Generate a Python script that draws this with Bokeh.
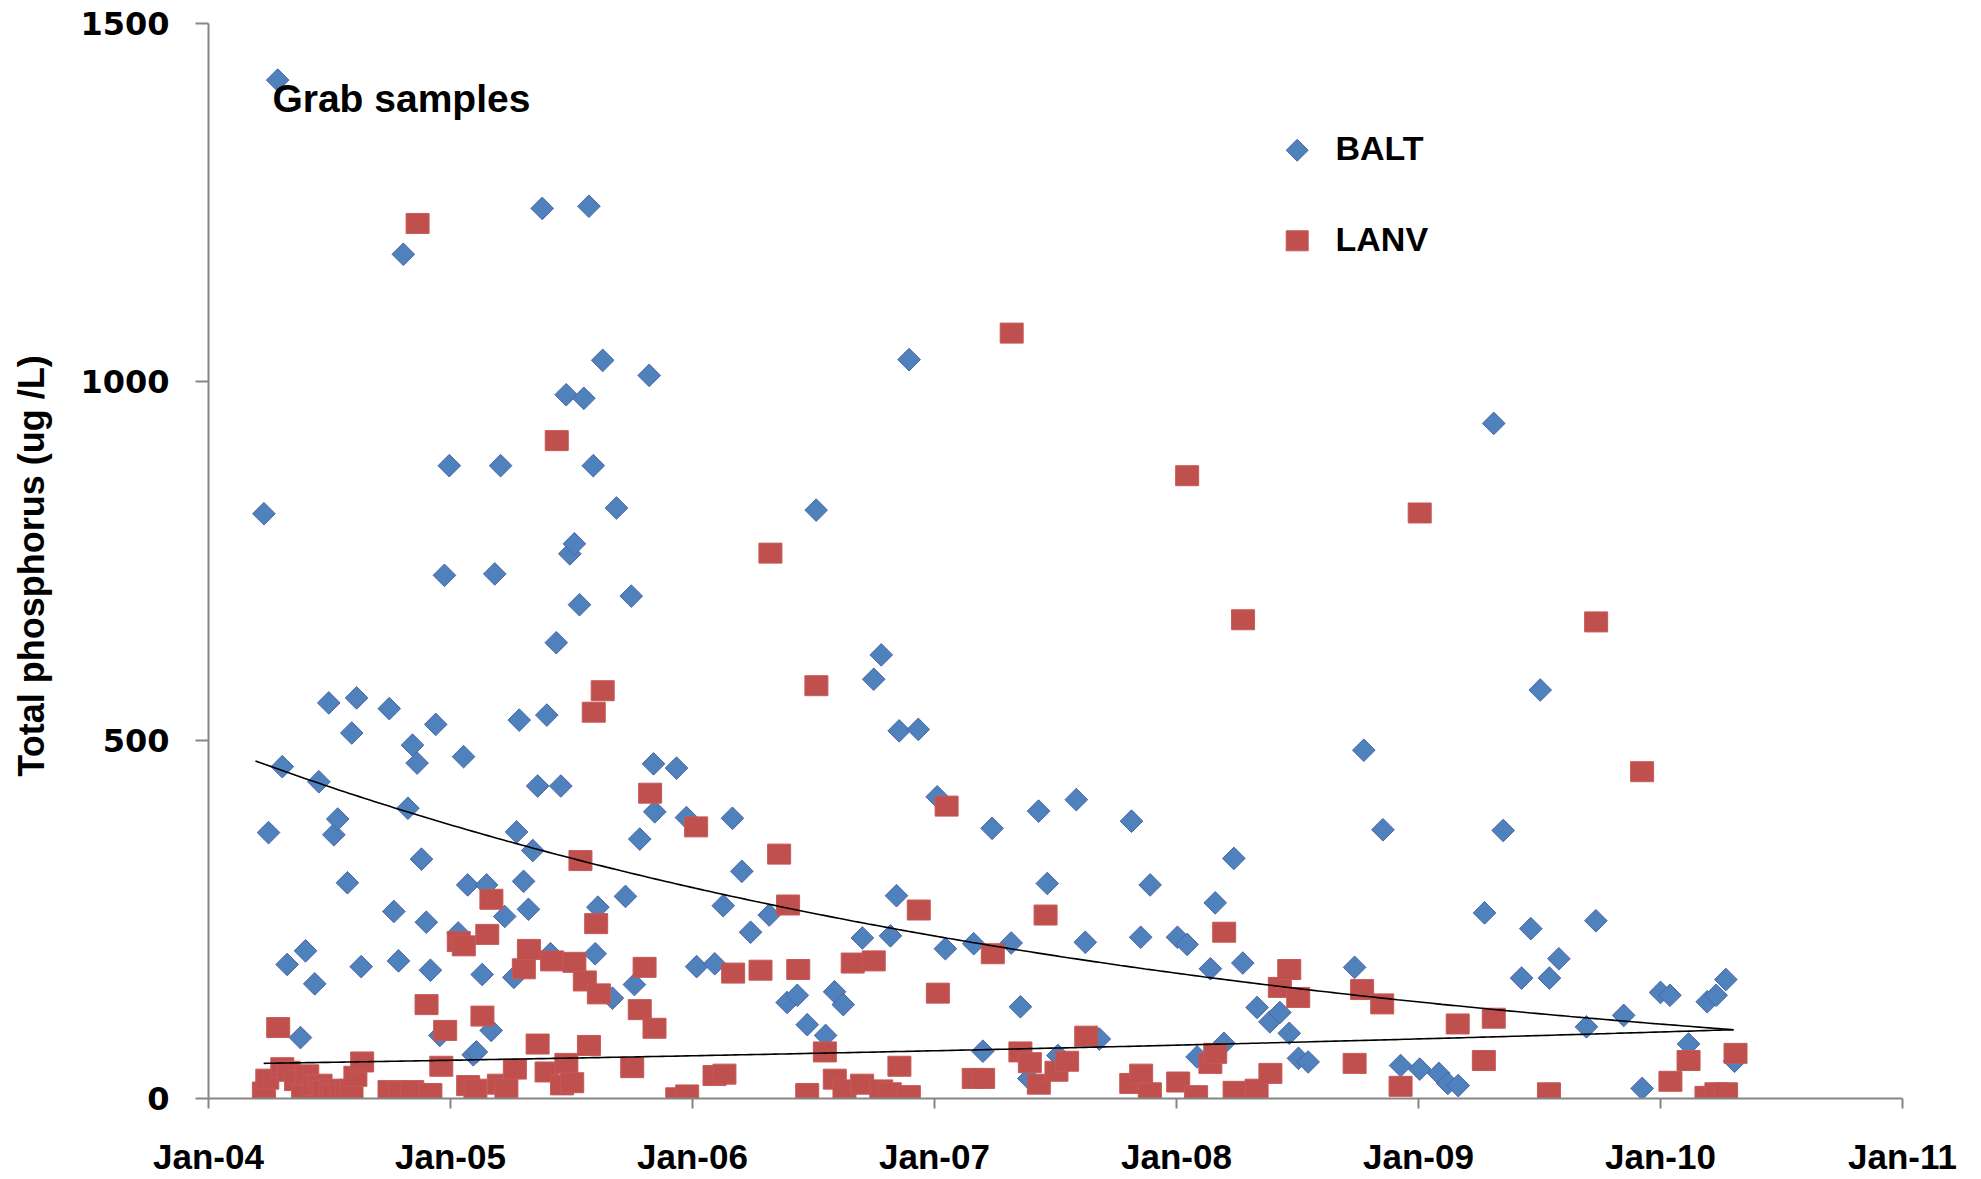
import numpy as np
from bokeh.plotting import figure
from bokeh.models import FixedTicker, Label, Range1d
from bokeh.embed import file_html
from bokeh.resources import INLINE

# ---------------- data (decimal year, total phosphorus ug/L) ----------------
balt_year = [2004.229, 2004.248, 2004.286, 2004.305, 2004.325, 2004.380, 2004.401, 2004.439,
             2004.456, 2004.497, 2004.518, 2004.534, 2004.574, 2004.592, 2004.612, 2004.631,
             2004.747, 2004.766, 2004.785, 2004.805, 2004.824, 2004.843, 2004.862, 2004.880,
             2004.900, 2004.917, 2004.939, 2004.956, 2004.975, 2004.995, 2005.032, 2005.054,
             2005.071, 2005.094, 2005.107, 2005.131, 2005.149, 2005.168, 2005.183, 2005.207,
             2005.224, 2005.262, 2005.273, 2005.284, 2005.302, 2005.322, 2005.340, 2005.360,
             2005.379, 2005.398, 2005.413, 2005.437, 2005.456, 2005.478, 2005.493, 2005.512,
             2005.533, 2005.551, 2005.572, 2005.590, 2005.598, 2005.609, 2005.629, 2005.669,
             2005.686, 2005.723, 2005.747, 2005.760, 2005.782, 2005.821, 2005.839, 2005.844,
             2005.934, 2005.975, 2006.017, 2006.092, 2006.127, 2006.165, 2006.204, 2006.240,
             2006.317, 2006.391, 2006.433, 2006.474, 2006.511, 2006.550, 2006.587, 2006.623,
             2006.702, 2006.749, 2006.780, 2006.818, 2006.843, 2006.854, 2006.895, 2006.933,
             2007.011, 2007.045, 2007.162, 2007.200, 2007.238, 2007.317, 2007.355, 2007.390,
             2007.430, 2007.466, 2007.510, 2007.528, 2007.586, 2007.623, 2007.681, 2007.814,
             2007.852, 2007.891, 2008.004, 2008.044, 2008.085, 2008.140, 2008.160, 2008.196,
             2008.237, 2008.274, 2008.333, 2008.386, 2008.427, 2008.466, 2008.504, 2008.544,
             2008.736, 2008.774, 2008.853, 2008.926, 2009.005, 2009.084, 2009.121, 2009.164,
             2009.273, 2009.311, 2009.350, 2009.426, 2009.464, 2009.503, 2009.541, 2009.580,
             2009.694, 2009.733, 2009.848, 2009.924, 2010.000, 2010.039, 2010.116, 2010.193,
             2010.230, 2010.270, 2010.306]
balt_tp = [816, 371, 1421, 463, 187, 85, 206, 160,
           442, 552, 368, 390, 301, 510, 559, 184,
           544, 261, 192, 1178, 405, 493, 468, 334,
           246, 179, 522, 88, 730, 883, 231, 477,
           298, 61, 65, 173, 298, 95, 732, 883,
           254, 169, 372, 528, 303, 264, 346, 436,
           1242, 535, 202, 636, 436, 982, 760, 774,
           689, 977, 1245, 883, 202, 267, 1030, 140,
           824, 282, 701, 159, 362, 1009, 467, 400,
           461, 392, 184, 188, 269, 391, 317, 232,
           256, 134, 144, 103, 821, 88, 149, 131,
           224, 585, 619, 227, 283, 513, 1031, 515,
           421, 209, 216, 66, 377, 217, 128, 28,
           401, 300, 60, 45, 417, 218, 83, 387,
           225, 298, 225, 215, 58, 181, 273, 77,
           335, 189, 127, 107, 120, 91, 56, 51,
           183, 486, 375, 46, 41, 35, 21, 18,
           259, 942, 374, 168, 237, 570, 168, 195,
           100, 248, 116, 14, 148, 144, 76, 135,
           144, 166, 52]

lanv_year = [2004.229, 2004.243, 2004.288, 2004.305, 2004.331, 2004.362, 2004.391, 2004.408,
             2004.435, 2004.463, 2004.476, 2004.504, 2004.518, 2004.550, 2004.570, 2004.591,
             2004.607, 2004.635, 2004.748, 2004.793, 2004.842, 2004.864, 2004.901, 2004.917,
             2004.962, 2004.978, 2005.034, 2005.055, 2005.073, 2005.103, 2005.132, 2005.152,
             2005.169, 2005.200, 2005.231, 2005.266, 2005.303, 2005.324, 2005.360, 2005.397,
             2005.439, 2005.420, 2005.461, 2005.479, 2005.512, 2005.503, 2005.537, 2005.555,
             2005.572, 2005.592, 2005.602, 2005.613, 2005.629, 2005.751, 2005.782, 2005.802,
             2005.825, 2005.843, 2005.937, 2005.978, 2006.015, 2006.091, 2006.132, 2006.168,
             2006.281, 2006.322, 2006.358, 2006.395, 2006.437, 2006.474, 2006.512, 2006.547,
             2006.588, 2006.628, 2006.662, 2006.701, 2006.749, 2006.780, 2006.815, 2006.855,
             2006.894, 2006.935, 2007.014, 2007.050, 2007.162, 2007.201, 2007.241, 2007.319,
             2007.355, 2007.394, 2007.431, 2007.459, 2007.504, 2007.548, 2007.627, 2007.813,
             2007.854, 2007.890, 2008.007, 2008.044, 2008.081, 2008.140, 2008.160, 2008.197,
             2008.240, 2008.275, 2008.331, 2008.388, 2008.427, 2008.466, 2008.503, 2008.736,
             2008.767, 2008.850, 2008.926, 2009.005, 2009.162, 2009.270, 2009.311, 2009.539,
             2009.734, 2009.924, 2010.041, 2010.116, 2010.190, 2010.231, 2010.271, 2010.310]
lanv_tp = [9, 27, 99, 43, 38, 25, 7, 33,
           18, 20, 11, 13, 6, 8, 12, 13,
           31, 51, 11, 10, 11, 1221, 131, 7,
           45, 95, 219, 213, 18, 13, 115, 229,
           278, 20, 14, 41, 181, 208, 76, 37,
           918, 192, 19, 49, 190, 22, 332, 164,
           74, 539, 244, 146, 569, 43, 124, 183,
           426, 98, 1, 5, 379, 32, 34, 175,
           179, 761, 341, 270, 180, 7, 576, 65,
           27, 12, 189, 20, 192, 12, 8, 45,
           4, 263, 147, 408, 28, 28, 202, 1068,
           65, 50, 20, 256, 38, 52, 87, 21,
           34, 8, 23, 869, 4, 49, 63, 232,
           10, 668, 13, 35, 155, 180, 141, 49,
           152, 132, 17, 817, 104, 53, 112, 8,
           665, 456, 24, 53, 3, 8, 8, 63]

# exponential trend lines: start / end values
balt_trend_year = [2004.194, 2010.302]
balt_trend_tp = [471, 96]
lanv_trend_year = [2004.228, 2010.302]
lanv_trend_tp = [49, 96]

x_tick_years = [2004, 2005, 2006, 2007, 2008, 2009, 2010, 2011]
x_tick_labels = ["Jan-04", "Jan-05", "Jan-06", "Jan-07", "Jan-08", "Jan-09", "Jan-10", "Jan-11"]
y_ticks = [0, 500, 1000, 1500]
series_names = ["BALT", "LANV"]

FONT = "Liberation Sans"
AXIS_GREY = "#868686"
BLUE, BLUE_EDGE = "#4F81BD", "#4C66A6"
RED, RED_EDGE = "#C0504D", "#C55A57"

# ---------------- layout (pixels) ----------------
W, H = 1970, 1178
BL, BR, BT, BB = 208, 68, 23, 78
FW, FH = W - BL - BR, H - BT - BB


def exp_trend(years, vals, n=300):
    t = np.linspace(years[0], years[1], n)
    frac = (t - years[0]) / (years[1] - years[0])
    return t, vals[0] * (vals[1] / vals[0]) ** frac


p = figure(width=W, height=H,
           x_range=Range1d(2004, 2011), y_range=Range1d(0, 1500),
           output_backend="svg", toolbar_location=None,
           min_border_left=BL, min_border_right=BR,
           min_border_top=BT, min_border_bottom=BB)
# pixel coordinate system of the plot frame, used only for the legend keys
p.extra_x_ranges = {"px": Range1d(0, FW)}
p.extra_y_ranges = {"px": Range1d(0, FH)}
p.outline_line_color = None
p.xgrid.visible = False
p.ygrid.visible = False
p.background_fill_color = "white"

p.scatter(balt_year, balt_tp, marker="square", angle=np.pi / 4, size=16,
          fill_color=BLUE, line_color=BLUE_EDGE, line_width=1)
p.rect(lanv_year, lanv_tp, width=23, height=20,
       width_units="screen", height_units="screen",
       fill_color=RED, line_color=RED_EDGE, line_width=1)

tx, ty = exp_trend(balt_trend_year, balt_trend_tp)
p.line(tx, ty, line_color="black", line_width=1.6)
tx, ty = exp_trend(lanv_trend_year, lanv_trend_tp)
p.line(tx, ty, line_color="black", line_width=1.6)

# axes
xa = p.xaxis[0]
xa.ticker = FixedTicker(ticks=x_tick_years, minor_ticks=[])
xa.major_label_overrides = {y: lab for y, lab in zip(x_tick_years, x_tick_labels)}
xa.major_tick_in = 0
xa.major_tick_out = 10
xa.major_label_standoff = 28
xa.major_label_text_font = FONT
xa.major_label_text_font_style = "bold"
xa.major_label_text_font_size = "35px"
xa.major_label_text_color = "black"

ya = p.yaxis[0]
ya.ticker = FixedTicker(ticks=y_ticks, minor_ticks=[])
ya.major_tick_in = 0
ya.major_tick_out = 13
ya.major_label_standoff = 26
ya.major_label_text_font = "DejaVu Sans"
ya.major_label_text_font_style = "bold"
ya.major_label_text_font_size = "32px"
ya.major_label_text_color = "black"
ya.axis_label = "Total phosphorus  (ug /L)"
ya.axis_label_text_font = FONT
ya.axis_label_text_font_style = "bold"
ya.axis_label_text_font_size = "36px"
ya.axis_label_text_color = "black"
ya.axis_label_standoff = 25

for ax in (xa, ya):
    ax.axis_line_color = AXIS_GREY
    ax.axis_line_width = 2
    ax.major_tick_line_color = AXIS_GREY
    ax.major_tick_line_width = 2
    ax.minor_tick_line_color = None

# annotation
p.add_layout(Label(x=2004.264, y=1395, text="Grab samples", text_font=FONT,
                   text_font_style="bold", text_font_size="39px", text_color="black",
                   text_baseline="alphabetic"))

# legend (keys placed in frame pixel coordinates)
KEY_X, TEXT_X = 1088.7, 1127
KEY_Y = [950, 859.3]
TEXT_Y = [952, 861.5]
p.scatter([KEY_X], [KEY_Y[0]], x_range_name="px", y_range_name="px",
          marker="square", angle=np.pi / 4, size=15.5,
          fill_color=BLUE, line_color=BLUE_EDGE, line_width=1)
p.rect([KEY_X], [KEY_Y[1]], width=22, height=20, width_units="screen", height_units="screen",
       x_range_name="px", y_range_name="px",
       fill_color=RED, line_color=RED_EDGE, line_width=1)
for name, ty_ in zip(series_names, TEXT_Y):
    p.add_layout(Label(x=TEXT_X, y=ty_, x_range_name="px", y_range_name="px", text=name,
                       text_font=FONT, text_font_style="bold", text_font_size="34px",
                       text_color="black", text_baseline="alphabetic"))

open("out.html", "w").write(file_html(p, INLINE))
